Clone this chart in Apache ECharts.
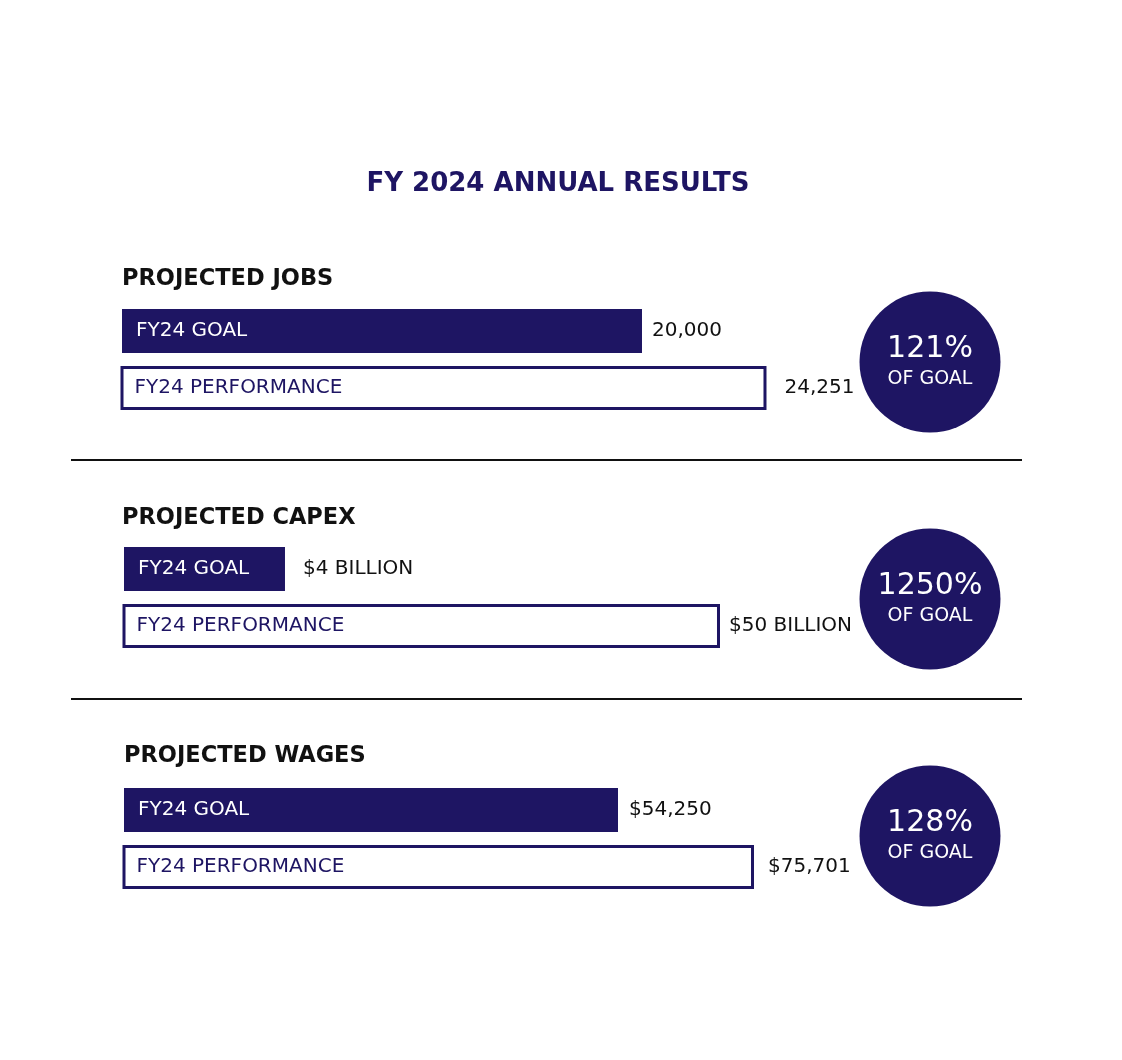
<!DOCTYPE html>
<html>
<head>
<meta charset="utf-8">
<script src="https://cdn.jsdelivr.net/npm/echarts@6/dist/echarts.min.js"></script>
<style>
  html, body { margin: 0; padding: 0; background: #ffffff; }
  #chart { width: 1122px; height: 1060px; }
</style>
</head>
<body>
<div id="chart"></div>
<script>
// ---- data ----
const sections = ['JOBS', 'CAPEX', 'WAGES'];
const sectionHeaders = ['PROJECTED JOBS', 'PROJECTED CAPEX', 'PROJECTED WAGES'];
const barCategories = ['FY24 GOAL', 'FY24 PERFORMANCE'];
const goalValues = [20000, 4, 54250];          // capex in $ billions
const perfValues = [24251, 50, 75701];
const goalLabels = ['20,000', '$4 BILLION', '$54,250'];
const perfLabels = ['24,251', '$50 BILLION', '$75,701'];
const pctOfGoal = [121, 1250, 128];
const chartTitle = 'FY 2024 ANNUAL RESULTS';

// ---- style / layout ----
const NAVY = '#1e1563';
const FONT = "'DejaVu Sans', sans-serif";
const axisRanges = [[8942, 26427], [1.5708, 91.46], [16173, 89863]];
const gridLefts = [122, 124, 124];
const gridTops = [302.5, 540.5, 781.5];
const headerY = [279, 518, 756];
const headerX = [122, 122, 124];
const goalLabelGap = [10, 18, 11];
const perfLabelGap = [18, 9, 14];

const chart = echarts.init(document.getElementById('chart'), null, { renderer: 'canvas' });

const grids = [], xAxes = [], yAxes = [], series = [];
sections.forEach((s, i) => {
  grids.push({ left: gridLefts[i], top: gridTops[i], width: 700, height: 114 });
  xAxes.push({ type: 'log', gridIndex: i, min: axisRanges[i][0], max: axisRanges[i][1], show: false, splitLine: { show: false } });
  yAxes.push({ type: 'category', gridIndex: i, data: barCategories, inverse: true, show: false });
  const vals = [goalValues[i], perfValues[i]];
  const txt = [goalLabels[i], perfLabels[i]];
  const gaps = [goalLabelGap[i], perfLabelGap[i]];
  series.push({
    type: 'bar', xAxisIndex: i, yAxisIndex: i, barWidth: 44, clip: true, silent: true,
    data: vals.map((v, j) => ({
      value: v,
      itemStyle: j === 0 ? { color: NAVY, borderWidth: 0 } : { color: '#ffffff', borderColor: NAVY, borderWidth: 3 },
      label: { color: j === 0 ? '#ffffff' : NAVY }
    })),
    label: {
      show: true, position: 'insideLeft', distance: 14,
      formatter: p => barCategories[p.dataIndex],
      fontFamily: FONT, fontSize: 20
    }
  });
  series.push({
    type: 'bar', xAxisIndex: i, yAxisIndex: i, barWidth: 44, barGap: '-100%', clip: true, silent: true,
    itemStyle: { color: 'rgba(0,0,0,0)' },
    data: vals.map((v, j) => ({ value: v, label: { distance: gaps[j] } })),
    label: {
      show: true, position: 'right',
      formatter: p => txt[p.dataIndex],
      color: '#111111', fontFamily: FONT, fontSize: 20
    }
  });
});

// circles grid
const ci = sections.length;
grids.push({ left: 860, top: 243.5, width: 140, height: 711 });
xAxes.push({ type: 'category', gridIndex: ci, data: ['OF GOAL'], show: false });
yAxes.push({ type: 'category', gridIndex: ci, data: sections, inverse: true, show: false });
series.push({
  type: 'scatter', xAxisIndex: ci, yAxisIndex: ci, symbol: 'circle', symbolSize: 141, silent: true,
  itemStyle: { color: NAVY, opacity: 1 },
  data: sections.map(s => ['OF GOAL', s]),
  label: {
    show: true, position: 'inside',
    formatter: p => '{a|' + pctOfGoal[p.dataIndex] + '%}\n{b|OF GOAL}',
    rich: {
      a: { color: '#ffffff', fontFamily: FONT, fontSize: 30, lineHeight: 34, align: 'center' },
      b: { color: '#ffffff', fontFamily: FONT, fontSize: 19, lineHeight: 26, align: 'center' }
    }
  }
});

const graphics = [
  { type: 'text', x: 558, y: 184, style: { text: chartTitle, fill: NAVY, font: "bold 26px " + FONT, textAlign: 'center', textVerticalAlign: 'middle' } },
  { type: 'line', shape: { x1: 71, y1: 460, x2: 1022, y2: 460 }, style: { stroke: '#111111', lineWidth: 2 } },
  { type: 'line', shape: { x1: 71, y1: 699, x2: 1022, y2: 699 }, style: { stroke: '#111111', lineWidth: 2 } }
];
sectionHeaders.forEach((h, i) => {
  graphics.push({ type: 'text', x: headerX[i], y: headerY[i], style: { text: h, fill: '#111111', font: "bold 22.5px " + FONT, textAlign: 'left', textVerticalAlign: 'middle' } });
});

chart.setOption({
  backgroundColor: '#ffffff',
  animation: false,
  grid: grids,
  xAxis: xAxes,
  yAxis: yAxes,
  series: series,
  graphic: graphics
});
</script>
</body>
</html>
